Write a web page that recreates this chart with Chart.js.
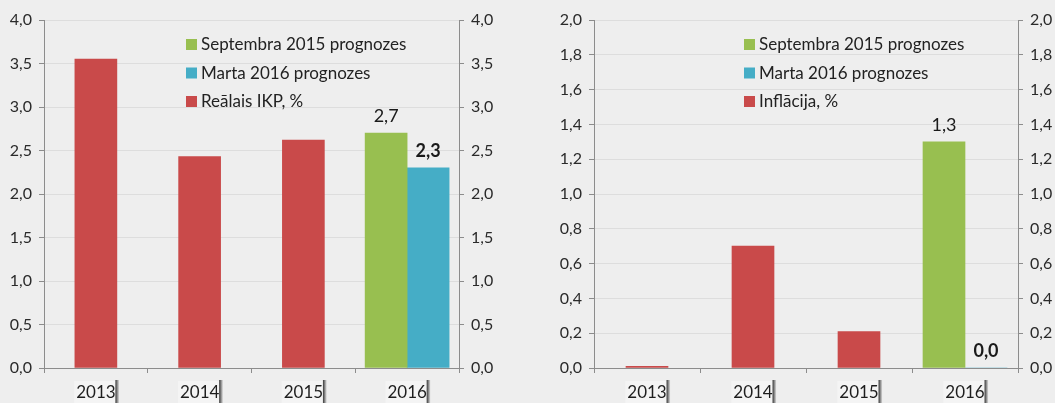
<!DOCTYPE html>
<html>
<head>
<meta charset="utf-8">
<script src="https://cdn.jsdelivr.net/npm/chart.js@4.4.1/dist/chart.umd.min.js"></script>
<style>
  html, body { margin: 0; padding: 0; background: #eeeeee; }
  #wrap { position: relative; width: 1055px; height: 403px; overflow: hidden; }
  .box { position: absolute; top: 0; height: 403px; }
  #gdpBox { left: 0; width: 527px; }
  #infBox { left: 527px; width: 528px; }
</style>
</head>
<body>
<div id="wrap">
  <div class="box" id="gdpBox"><canvas id="gdp"></canvas></div>
  <div class="box" id="infBox"><canvas id="inf"></canvas></div>
</div>
<script>
const years = ['2013', '2014', '2015', '2016'];

// real GDP growth, %
const gdpActual = [3.55, 2.43, 2.62, null];
const gdpSep2015 = [null, null, null, 2.7];
const gdpMar2016 = [null, null, null, 2.3];

// inflation, %
const infActual = [0.01, 0.7, 0.21, null];
const infSep2015 = [null, null, null, 1.3];
const infMar2016 = [null, null, null, 0.0];

const gdpAxis = [0, 4.0, 0.5];   // min, max, step
const infAxis = [0, 2.0, 0.2];

const gdpLegend = ['Septembra 2015 prognozes', 'Marta 2016 prognozes', 'Reālais IKP, %'];
const infLegend = ['Septembra 2015 prognozes', 'Marta 2016 prognozes', 'Inflācija, %'];

const GREEN = '#98bf50';
const BLUE = '#45adc6';
const RED = '#c94a4a';
const AXIS = '#8c8c8c';
const TEXT = '#222222';

const fmt = v => Number(v).toFixed(1).replace('.', ',');

// legend drawn inside the plot area, stacked vertically
const insideLegend = {
  id: 'insideLegend',
  afterDraw(chart, args, opts) {
    const { ctx, chartArea } = chart;
    ctx.save();
    ctx.font = '17px Lato';
    ctx.textBaseline = 'middle';
    chart.data.datasets.forEach((ds, i) => {
      const x = chartArea.left + opts.x;
      const y = opts.y + i * opts.gap;
      ctx.fillStyle = ds.backgroundColor;
      ctx.fillRect(x, y - 5, 11, 11);
      ctx.fillStyle = TEXT;
      ctx.fillText(ds.label, x + 15, y + 1);
    });
    ctx.restore();
  }
};

// value labels above the forecast bars
const valueLabels = {
  id: 'valueLabels',
  afterDatasetsDraw(chart) {
    const ctx = chart.ctx;
    chart.data.datasets.forEach((ds, i) => {
      if (!ds.valueLabel) return;
      chart.getDatasetMeta(i).data.forEach((bar, j) => {
        const v = ds.data[j];
        if (v === null) return;
        ctx.save();
        ctx.font = ds.valueLabel + ' 18px Lato';
        ctx.textAlign = 'center';
        ctx.textBaseline = 'middle';
        ctx.fillStyle = '#1a1a1a';
        ctx.fillText(fmt(v), bar.x, bar.y - 17);
        ctx.restore();
      });
    });
  }
};

// the little dark shadow on the right of each year label
const labelShadow = {
  id: 'labelShadow',
  afterDraw(chart) {
    const sc = chart.scales.x;
    const ctx = chart.ctx;
    ctx.save();
    ctx.font = '16px Lato';
    sc.ticks.forEach((t, i) => {
      const w = ctx.measureText(sc.getLabelForValue(t.value)).width;
      const x = sc.getPixelForTick(i) + w / 2 + 1;
      const g = ctx.createLinearGradient(x, 0, x + 4, 0);
      g.addColorStop(0, 'rgba(30,30,30,0.9)');
      g.addColorStop(1, 'rgba(30,30,30,0)');
      ctx.fillStyle = g;
      ctx.fillRect(x, sc.top + 12, 4, chart.height - sc.top - 12);
    });
    ctx.restore();
  }
};

function makeScales(axis, leftW, rightW, xH) {
  const yTicks = () => ({
    stepSize: axis[2], padding: 7, color: '#2a2a2a',
    font: { family: 'Lato', size: 16 },
    callback: v => fmt(v)
  });
  return {
    x: {
      grid: { offset: true, drawOnChartArea: false, tickLength: 5, tickColor: AXIS },
      border: { color: AXIS },
      ticks: {
        padding: 9, color: '#1e1e1e', font: { family: 'Lato', size: 17 },
        showLabelBackdrop: true, backdropColor: '#f4f4f4',
        backdropPadding: { top: 1, bottom: 6, left: 2, right: 1 }
      },
      afterFit: s => { s.height = xH; }
    },
    y: {
      position: 'left', min: axis[0], max: axis[1],
      grid: { color: '#dddddd', tickLength: 5, tickColor: AXIS },
      border: { color: AXIS },
      ticks: yTicks(),
      afterFit: s => { s.width = leftW; }
    },
    y2: {
      position: 'right', min: axis[0], max: axis[1],
      grid: { drawOnChartArea: false, tickLength: 5, tickColor: AXIS },
      border: { color: AXIS },
      ticks: yTicks(),
      afterFit: s => { s.width = rightW; }
    }
  };
}

function makeChart(id, legend, sep, mar, actual, axis, sizes, legendPos) {
  return new Chart(document.getElementById(id), {
    type: 'bar',
    data: {
      labels: years,
      datasets: [
        { label: legend[0], data: sep, backgroundColor: GREEN, valueLabel: 'normal' },
        { label: legend[1], data: mar, backgroundColor: BLUE, valueLabel: 'bold' },
        { label: legend[2], data: actual, backgroundColor: RED }
      ]
    },
    options: {
      responsive: true,
      maintainAspectRatio: false,
      animation: false,
      layout: { padding: { top: 20 } },
      datasets: { bar: { skipNull: true, barThickness: 42 } },
      scales: makeScales(axis, sizes[0], sizes[1], sizes[2]),
      plugins: {
        legend: { display: false },
        tooltip: { enabled: false },
        insideLegend: legendPos
      }
    },
    plugins: [insideLegend, valueLabels, labelShadow]
  });
}

makeChart('gdp', gdpLegend, gdpSep2015, gdpMar2016, gdpActual, gdpAxis,
  [44, 68, 35], { x: 142, y: 44, gap: 28.5 });
makeChart('inf', infLegend, infSep2015, infMar2016, infActual, infAxis,
  [67, 37, 35], { x: 150, y: 44, gap: 28.5 });
</script>
</body>
</html>
